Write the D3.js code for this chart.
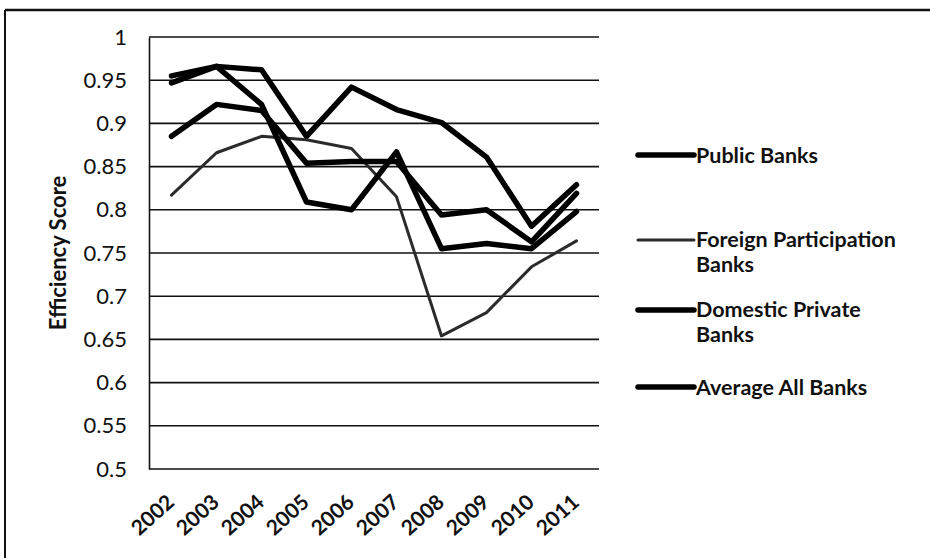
<!DOCTYPE html>
<html>
<head>
<meta charset="utf-8">
<script src="https://cdn.jsdelivr.net/npm/d3@7"></script>
<style>
  html, body { margin: 0; padding: 0; background: #fff; }
  svg { display: block; }
  text { font-family: Lato, "Open Sans", sans-serif; fill: #111; }
</style>
</head>
<body>
<svg id="chart" width="930" height="558"></svg>
<script>
const years = ["2002","2003","2004","2005","2006","2007","2008","2009","2010","2011"];
const publicBanks = [0.955, 0.966, 0.962, 0.885, 0.942, 0.916, 0.901, 0.861, 0.781, 0.829];
const foreignBanks = [0.817, 0.866, 0.885, 0.881, 0.871, 0.815, 0.654, 0.681, 0.734, 0.764];
const domesticBanks = [0.947, 0.966, 0.922, 0.809, 0.800, 0.867, 0.755, 0.761, 0.755, 0.798];
const averageBanks = [0.885, 0.922, 0.915, 0.854, 0.856, 0.856, 0.794, 0.800, 0.763, 0.819];
const yTicks = [0.5, 0.55, 0.6, 0.65, 0.7, 0.75, 0.8, 0.85, 0.9, 0.95, 1];
const seriesNames = ["Public Banks", "Foreign Participation Banks", "Domestic Private Banks", "Average All Banks"];
const legendLines = [["Public Banks"], ["Foreign Participation", "Banks"], ["Domestic Private", "Banks"], ["Average All Banks"]];

const series = [
  { name: seriesNames[0], values: publicBanks, width: 5.5, color: "#000" },
  { name: seriesNames[1], values: foreignBanks, width: 3, color: "#2b2b2b" },
  { name: seriesNames[2], values: domesticBanks, width: 5.5, color: "#000" },
  { name: seriesNames[3], values: averageBanks, width: 5.5, color: "#000" }
];

const svg = d3.select("#chart");
const plot = { left: 149, right: 599, top: 37, bottom: 469 };

// frame (scan border)
svg.append("line").attr("x1", 5).attr("y1", 10).attr("x2", 930).attr("y2", 10)
  .attr("stroke", "#111").attr("stroke-width", 2.5);
svg.append("line").attr("x1", 5).attr("y1", 10).attr("x2", 5).attr("y2", 558)
  .attr("stroke", "#111").attr("stroke-width", 2);

const x = d3.scaleBand().domain(years).range([plot.left, plot.right]);
const y = d3.scaleLinear().domain([0.5, 1]).range([plot.bottom, plot.top]);

// gridlines
svg.append("g").selectAll("line").data(yTicks).join("line")
  .attr("x1", plot.left).attr("x2", plot.right)
  .attr("y1", d => y(d)).attr("y2", d => y(d))
  .attr("stroke", "#111").attr("stroke-width", 1.6);

// y axis
const yAxis = svg.append("g").attr("transform", `translate(${plot.left},0)`)
  .call(d3.axisLeft(y).tickValues(yTicks).tickSize(0).tickPadding(22)
    .tickFormat(d => String(+d.toFixed(2))));
yAxis.select(".domain").attr("stroke", "#111").attr("stroke-width", 1.6);
yAxis.selectAll("text").attr("font-size", 22).attr("fill", "#111")
  .style("font-family", "Lato, sans-serif");

// x axis
const xAxis = svg.append("g").attr("transform", `translate(0,${plot.bottom})`)
  .call(d3.axisBottom(x).tickSize(0).tickFormat(d => d));
xAxis.select(".domain").remove();
xAxis.selectAll("text")
  .attr("font-size", 21).attr("font-weight", "bold").attr("fill", "#111")
  .style("font-family", "Lato, sans-serif")
  .attr("text-anchor", "end")
  .attr("x", 0).attr("y", 0).attr("dy", 0)
  .attr("transform", `translate(4,35) rotate(-42)`);

// y title
svg.append("text")
  .attr("transform", `translate(66,${(plot.top + plot.bottom) / 2}) rotate(-90)`)
  .attr("text-anchor", "middle")
  .attr("font-size", 22).attr("font-weight", "bold")
  .text("Efficiency Score");

// lines
const line = d3.line()
  .x((d, i) => x(years[i]) + x.bandwidth() / 2)
  .y(d => y(d))
  .curve(d3.curveLinear);

svg.append("g").selectAll("path").data(series).join("path")
  .attr("d", d => line(d.values))
  .attr("fill", "none")
  .attr("stroke", d => d.color)
  .attr("stroke-width", d => d.width)
  .attr("stroke-linejoin", "round")
  .attr("stroke-linecap", "round");

// legend
const legendY = [155, 240, 310, 387];
const legend = svg.append("g");
series.forEach((s, i) => {
  const g = legend.append("g").attr("transform", `translate(0,${legendY[i]})`);
  g.append("line").attr("x1", 638).attr("x2", 694).attr("y1", 0).attr("y2", 0)
    .attr("stroke", s.color).attr("stroke-width", s.width).attr("stroke-linecap", "round");
  legendLines[i].forEach((t, j) => {
    g.append("text").attr("x", 696).attr("y", j * 25 - (legendLines[i].length > 1 ? 1 : 0))
      .attr("dy", "0.35em")
      .attr("font-size", 21.5).attr("font-weight", "bold").text(t);
  });
});
</script>
</body>
</html>
